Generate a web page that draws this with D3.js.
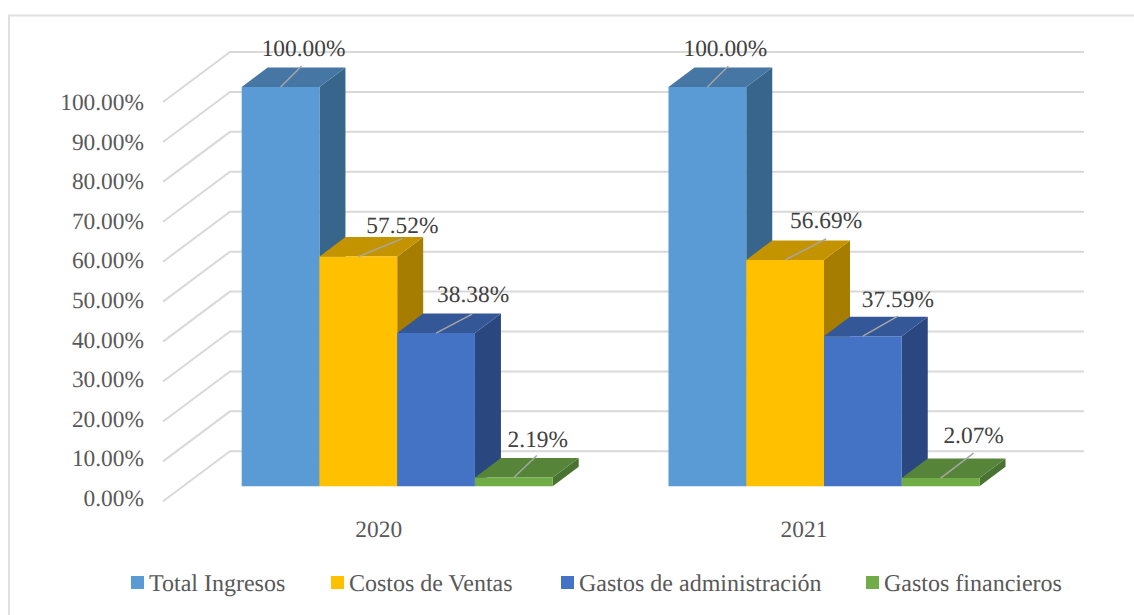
<!DOCTYPE html>
<html><head><meta charset="utf-8">
<script src="https://cdn.jsdelivr.net/npm/d3@7"></script>
<style>html,body{margin:0;padding:0;background:#fff}svg{display:block}text{font-family:"Liberation Serif","Times New Roman",serif;text-rendering:geometricPrecision}</style>
</head><body><svg id="c" width="1134" height="615"></svg>
<script>
const years = ["2020","2021"];
const seriesNames = ["Total Ingresos","Costos de Ventas","Gastos de administración","Gastos financieros"];
const values2020 = [100.00,57.52,38.38,2.19];
const values2021 = [100.00,56.69,37.59,2.07];
const valuesByYear = [values2020,values2021];
const ticks = [0,10,20,30,40,50,60,70,80,90,100];
const fronts = ["#5b9bd5","#ffc000","#4472c4","#70ad47"];
const tops = ["#4676a3","#c49400","#345797","#56853a"];
const sides = ["#38658c","#a67d00","#2b4780","#497330"];
const legendX = [131,331,561,866];
const leaderEnds = [[[21,-21],[44,-18],[36,-19],[23,-22]],[[21,-21],[41,-21],[35,-20],[33,-25]]];
const labelCenter = [[23,44,37,24],[18,41,35,33]];
const labelBaseline = [[-31,-24,-31,-31],[-31,-32,-29,-35]];

const W=1134,H=615,dx=26,dy=-19.5;
const svg=d3.select("#c");
svg.attr("viewBox",[0,0,W,H]);
svg.append("rect").attr("x",9).attr("y",15.5).attr("width",1140).attr("height",620).attr("fill","#fff").attr("stroke","#e0e0e0").attr("stroke-width",2);

const y=d3.scaleLinear().domain([0,100]).range([486.3,87]);
const axisY=d3.scaleLinear().domain([0,100]).range([506,110]);
const xBar=d3.scalePoint().domain(d3.range(5)).range([0,311]);
const groupStart={"2020":241.7,"2021":668.5};
const wallL=163,wallM=230,wallR=1084;
const gy=v=>y(v)+15;

const grid=svg.append("g").attr("fill","none").attr("stroke","#d9d9d9").attr("stroke-width",2);
ticks.forEach(t=>{
  grid.append("path").attr("d",d3.line()([[wallL,gy(t)],[wallM,gy(t)-50],[wallR,gy(t)-50]]));
});
svg.append("g").selectAll("text").data(ticks).join("text")
  .attr("x",144).attr("y",t=>axisY(t)).attr("text-anchor","end")
  .attr("font-size",23.4).attr("fill","#595959").text(t=>t.toFixed(2)+"%");

const poly=(g,pts,fill)=>g.append("polygon").attr("points",pts.map(p=>p.join(",")).join(" ")).attr("fill",fill);
years.forEach((yr,yi)=>{
  const g=svg.append("g");
  const s=groupStart[yr];
  const vals=valuesByYear[yi];
  vals.forEach((v,i)=>{
    const x1=s+xBar(i),x2=s+xBar(i+1),t=y(v),b=y(0);
    poly(g,[[x2,t],[x2+dx,t+dy],[x2+dx,b+dy],[x2,b]],sides[i]);
    poly(g,[[x1,t],[x2,t],[x2+dx,t+dy],[x1+dx,t+dy]],tops[i]);
    poly(g,[[x1,t],[x2,t],[x2,b],[x1,b]],fronts[i]);
  });
  vals.forEach((v,i)=>{
    const x1=s+xBar(i),x2=s+xBar(i+1),t=y(v);
    const mx=(x1+x2)/2;
    const [ex,ey]=leaderEnds[yi][i];
    g.append("line").attr("x1",mx).attr("y1",t).attr("x2",mx+ex).attr("y2",t+ey).attr("stroke","#a6a6a6").attr("stroke-width",1.5);
    g.append("text").attr("x",mx+labelCenter[yi][i]).attr("y",t+labelBaseline[yi][i]).attr("text-anchor","middle").attr("font-size",23.4).attr("fill","#404040").text(v.toFixed(2)+"%");
  });
  g.append("text").attr("x",s+(yi?135.5:137)).attr("y",537).attr("text-anchor","middle").attr("font-size",23.4).attr("fill","#595959").text(yr);
});

const leg=svg.append("g");
seriesNames.forEach((n,i)=>{
  leg.append("rect").attr("x",legendX[i]).attr("y",576).attr("width",13).attr("height",13).attr("fill",fronts[i]);
  leg.append("text").attr("x",legendX[i]+18).attr("y",591).attr("font-size",24).attr("fill","#595959").text(n);
});
</script></body></html>
